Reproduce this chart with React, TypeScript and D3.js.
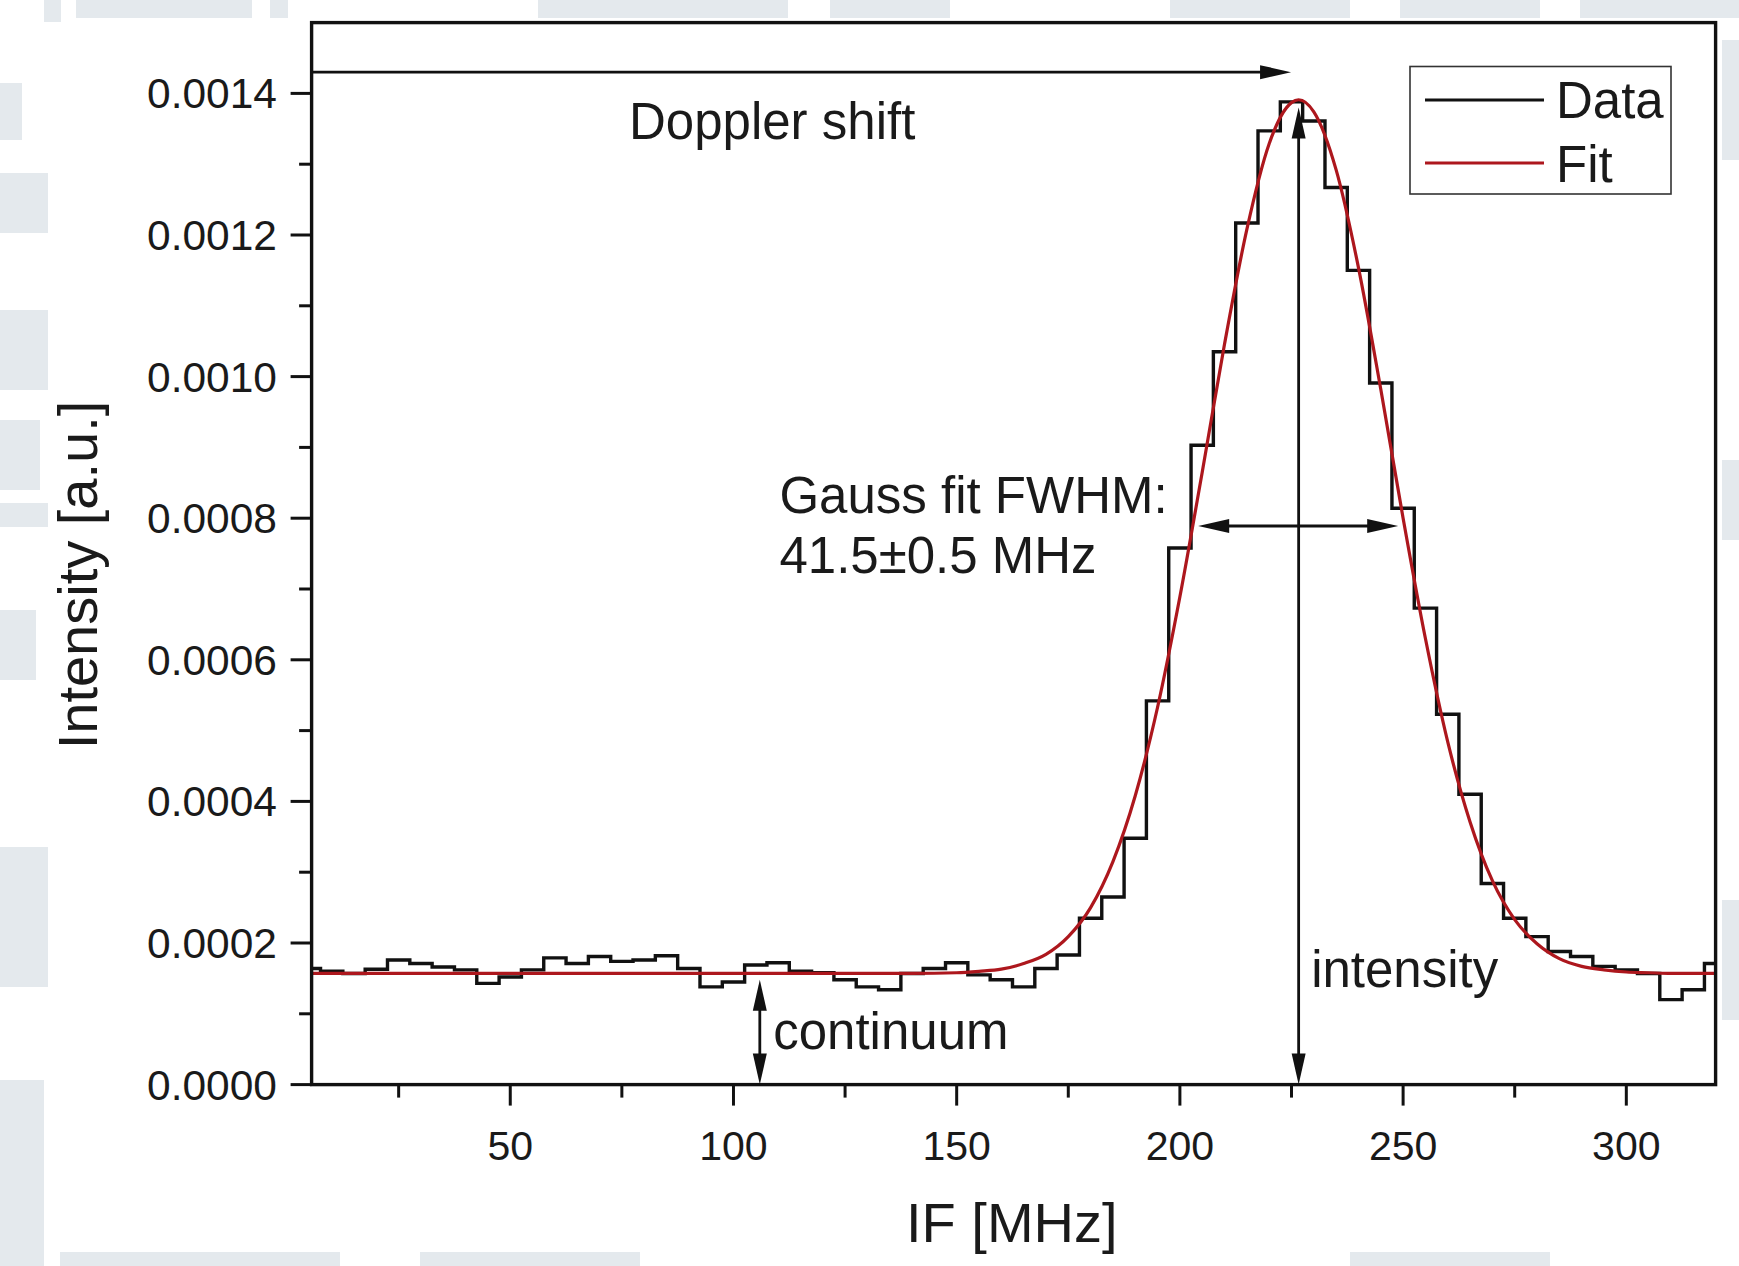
import React from "react";
import * as d3 from "d3";

const WIDTH = 1739;
const HEIGHT = 1266;
const FRAME = { left: 311.6, right: 1715.6, top: 22.6, bottom: 1084.6 };
const FONT = "'Liberation Sans', Arial, Helvetica, sans-serif";
const RED = "#ad171d";
const INK = "#111";

// ---- data ----
const dataIF = [
  5, 10, 15, 20, 25, 30, 35, 40, 45, 50, 55, 60, 65, 70, 75, 80, 85, 90, 95, 100,
  105, 110, 115, 120, 125, 130, 135, 140, 145, 150, 155, 160, 165, 170, 175, 180,
  185, 190, 195, 200, 205, 210, 215, 220, 225, 230, 235, 240, 245, 250, 255, 260,
  265, 270, 275, 280, 285, 290, 295, 300, 305, 310, 315, 320,
];
const dataIntensity = [
  0.000164, 0.00016, 0.000157, 0.000163, 0.000176, 0.000171, 0.000166, 0.000162,
  0.000143, 0.000152, 0.000162, 0.000179, 0.000171, 0.000181, 0.000174, 0.000176,
  0.000182, 0.000164, 0.000138, 0.000145, 0.000169, 0.000172, 0.00016, 0.000158,
  0.000148, 0.000138, 0.000134, 0.000157, 0.000164, 0.000172, 0.000155, 0.000148,
  0.000138, 0.000164, 0.000183, 0.000235, 0.000265, 0.000348, 0.000542, 0.000758,
  0.000903, 0.001035, 0.001217, 0.001347, 0.001388, 0.001361, 0.001267, 0.00115,
  0.000991, 0.000814, 0.000673, 0.000523, 0.00041, 0.000284, 0.000235, 0.000209,
  0.000188, 0.000181, 0.000167, 0.000162, 0.000157, 0.00012, 0.000134, 0.000171,
];

const fitIF = [
  5.5, 100, 140, 150, 155, 160, 165, 170, 175, 180, 185, 190, 195, 200, 205, 210,
  215, 220, 225, 226.6, 230, 235, 240, 245, 250, 255, 260, 265, 270, 275, 280, 285,
  290, 295, 300, 305, 310, 320,
];
const fitIntensity = [
  0.000157, 0.000157, 0.000157, 0.000158, 0.00016, 0.000163, 0.000171, 0.000184,
  0.000209, 0.00025, 0.000315, 0.000408, 0.000533, 0.000689, 0.000865, 0.001046,
  0.001208, 0.001329, 0.001387, 0.001391, 0.001374, 0.001292, 0.001154, 0.000982,
  0.0008, 0.00063, 0.000484, 0.000371, 0.000288, 0.000233, 0.000199, 0.000178,
  0.000167, 0.000162, 0.000159, 0.000158, 0.000157, 0.000157,
];

const xDomain = [5.5, 320];
const yDomain = [0, 0.0015];
const xMajorTicks = [50, 100, 150, 200, 250, 300];
const xMinorTicks = [25, 75, 125, 175, 225, 275];
const yMajorTicks = [0, 0.0002, 0.0004, 0.0006, 0.0008, 0.001, 0.0012, 0.0014];
const yMinorTicks = [0.0001, 0.0003, 0.0005, 0.0007, 0.0009, 0.0011, 0.0013];

const xTitle = "IF [MHz]";
const yTitle = "Intensity [a.u.]";
const legendLabels = ["Data", "Fit"];

const dopplerArrow = { from: 5.5, to: 224.9, at: 0.00143 };
const intensityArrow = { at: 226.6, from: 0, to: 0.00138 };
const fwhmArrow = { from: 204.1, to: 248.9, at: 0.000789 };
const continuumArrow = { at: 105.9, from: 0, to: 0.000148 };

const annotationTexts = [
  { text: "Doppler shift", x: 76.6, y: 0.001336 },
  { text: "Gauss fit FWHM:", x: 110.3, y: 0.000808 },
  { text: "41.5±0.5 MHz", x: 110.3, y: 0.000722 },
  { text: "continuum", x: 108.9, y: 0.0000503 },
  { text: "intensity", x: 229.4, y: 0.000138 },
];

// decorative watermark pieces in the margins
const watermark = [
  [76, 0, 176, 18], [270, 0, 18, 18], [538, 0, 250, 18], [830, 0, 120, 18],
  [1170, 0, 180, 18], [1400, 0, 140, 18], [1580, 0, 159, 18],
  [44, 0, 17, 22], [0, 83, 22, 57], [0, 173, 48, 60], [0, 310, 48, 80],
  [0, 420, 40, 70], [0, 503, 48, 24], [0, 610, 36, 70], [0, 847, 48, 140],
  [0, 1080, 44, 186], [1722, 40, 17, 120], [1722, 460, 17, 80], [1722, 900, 17, 120],
  [60, 1252, 280, 14], [420, 1252, 220, 14], [1350, 1252, 200, 14],
];

function arrowHead(tip: [number, number], dir: [number, number], len = 31, hw = 7) {
  const [tx, ty] = tip;
  const [dx, dy] = dir;
  const bx = tx - dx * len;
  const by = ty - dy * len;
  const px = -dy;
  const py = dx;
  return `M${tx},${ty}L${bx + px * hw},${by + py * hw}L${bx - px * hw},${by - py * hw}Z`;
}

export default function App() {
  const x = d3.scaleLinear().domain(xDomain).range([FRAME.left, FRAME.right]);
  const y = d3.scaleLinear().domain(yDomain).range([FRAME.bottom, FRAME.top]);
  const fmt = d3.format(".4f");

  const dataPts = dataIF.map((v, i) => [v, dataIntensity[i]] as [number, number]);
  const fitPts = fitIF.map((v, i) => [v, fitIntensity[i]] as [number, number]);

  const stepLine = d3
    .line<[number, number]>()
    .x((d) => x(d[0]))
    .y((d) => y(d[1]))
    .curve(d3.curveStep);
  const fitLine = d3
    .line<[number, number]>()
    .x((d) => x(d[0]))
    .y((d) => y(d[1]))
    .curve(d3.curveMonotoneX);

  const arrowW = 2.8;

  const dA = { x1: x(dopplerArrow.from), x2: x(dopplerArrow.to), y: y(dopplerArrow.at) };
  const iA = { x: x(intensityArrow.at), y1: y(intensityArrow.from), y2: y(intensityArrow.to) };
  const fA = { x1: x(fwhmArrow.from), x2: x(fwhmArrow.to), y: y(fwhmArrow.at) };
  const cA = { x: x(continuumArrow.at), y1: y(continuumArrow.from), y2: y(continuumArrow.to) };

  const LEG = { x: 1410, y: 66.5, w: 261, h: 127.5 };

  return (
    <svg
      width={WIDTH}
      height={HEIGHT}
      viewBox={`0 0 ${WIDTH} ${HEIGHT}`}
      style={{ position: "absolute", left: 0, top: 0, background: "#fff" }}
      fontFamily={FONT}
    >
      <rect x={0} y={0} width={WIDTH} height={HEIGHT} fill="#fff" />
      {watermark.map((r, i) => (
        <rect key={i} x={r[0]} y={r[1]} width={r[2]} height={r[3]} fill="#e4e9ed" />
      ))}
      <defs>
        <clipPath id="plotclip">
          <rect x={FRAME.left} y={FRAME.top} width={FRAME.right - FRAME.left} height={FRAME.bottom - FRAME.top} />
        </clipPath>
      </defs>

      <g clipPath="url(#plotclip)">
        <path d={stepLine(dataPts) || ""} fill="none" stroke={INK} strokeWidth={3.4} strokeLinejoin="miter" />
        <path d={fitLine(fitPts) || ""} fill="none" stroke={RED} strokeWidth={3.2} />
      </g>

      <rect
        x={FRAME.left}
        y={FRAME.top}
        width={FRAME.right - FRAME.left}
        height={FRAME.bottom - FRAME.top}
        fill="none"
        stroke={INK}
        strokeWidth={3.4}
      />

      {xMajorTicks.map((t) => (
        <g key={"xM" + t}>
          <line x1={x(t)} x2={x(t)} y1={FRAME.bottom} y2={FRAME.bottom + 21} stroke={INK} strokeWidth={3} />
          <text x={x(t)} y={1160} textAnchor="middle" fontSize={41} fill="#1a1a1a">
            {t}
          </text>
        </g>
      ))}
      {xMinorTicks.map((t) => (
        <line key={"xm" + t} x1={x(t)} x2={x(t)} y1={FRAME.bottom} y2={FRAME.bottom + 13} stroke={INK} strokeWidth={3} />
      ))}

      {yMajorTicks.map((t) => (
        <g key={"yM" + t}>
          <line x1={FRAME.left - 21} x2={FRAME.left} y1={y(t)} y2={y(t)} stroke={INK} strokeWidth={3} />
          <text x={277} y={y(t) + 15} textAnchor="end" fontSize={42.5} fill="#1a1a1a">
            {fmt(t)}
          </text>
        </g>
      ))}
      {yMinorTicks.map((t) => (
        <line key={"ym" + t} x1={FRAME.left - 12.5} x2={FRAME.left} y1={y(t)} y2={y(t)} stroke={INK} strokeWidth={3} />
      ))}

      <text x={906} y={1242} fontSize={56} fill="#1a1a1a">
        {xTitle}
      </text>
      <text transform={`translate(97,575) rotate(-90)`} textAnchor="middle" fontSize={56} fill="#1a1a1a">
        {yTitle}
      </text>

      <g stroke={INK} strokeWidth={arrowW} fill={INK}>
        <line x1={dA.x1} x2={dA.x2 - 25} y1={dA.y} y2={dA.y} />
        <path d={arrowHead([dA.x2, dA.y], [1, 0])} stroke="none" />

        <line x1={iA.x} x2={iA.x} y1={iA.y1 - 25} y2={iA.y2 + 25} />
        <path d={arrowHead([iA.x, iA.y2], [0, -1])} stroke="none" />
        <path d={arrowHead([iA.x, iA.y1], [0, 1])} stroke="none" />

        <line x1={fA.x1 + 25} x2={fA.x2 - 25} y1={fA.y} y2={fA.y} />
        <path d={arrowHead([fA.x1, fA.y], [-1, 0])} stroke="none" />
        <path d={arrowHead([fA.x2, fA.y], [1, 0])} stroke="none" />

        <line x1={cA.x} x2={cA.x} y1={cA.y1 - 25} y2={cA.y2 + 25} />
        <path d={arrowHead([cA.x, cA.y2], [0, -1])} stroke="none" />
        <path d={arrowHead([cA.x, cA.y1], [0, 1])} stroke="none" />
      </g>

      {annotationTexts.map((a) => (
        <text key={a.text} x={x(a.x)} y={y(a.y)} fontSize={51} fill="#1a1a1a">
          {a.text}
        </text>
      ))}

      <rect x={LEG.x} y={LEG.y} width={LEG.w} height={LEG.h} fill="#fff" stroke="#333" strokeWidth={1.6} />
      <line x1={LEG.x + 15} x2={LEG.x + 134} y1={100} y2={100} stroke={INK} strokeWidth={3} />
      <line x1={LEG.x + 15} x2={LEG.x + 134} y1={163} y2={163} stroke={RED} strokeWidth={3} />
      <text x={LEG.x + 146} y={118} fontSize={51} fill="#1a1a1a">
        {legendLabels[0]}
      </text>
      <text x={LEG.x + 146} y={182} fontSize={51} fill="#1a1a1a">
        {legendLabels[1]}
      </text>
    </svg>
  );
}
